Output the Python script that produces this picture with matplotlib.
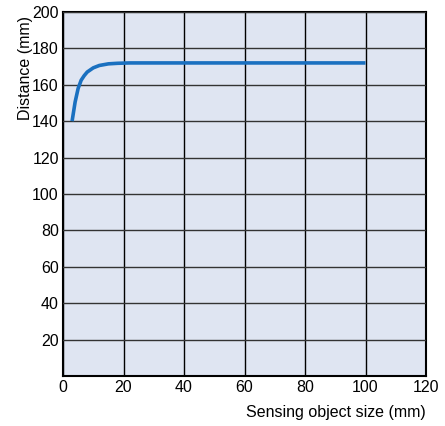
import matplotlib
matplotlib.use("Agg")
import matplotlib.pyplot as plt

# sensing object size (mm) vs distance (mm)
size_mm = [3, 4, 5, 6, 7, 8, 10, 12, 15, 18, 22, 100]
distance_mm = [140, 150.5, 158, 162.5, 165, 167, 169.3, 170.6, 171.5, 171.8, 172, 172]

x_ticks = [0, 20, 40, 60, 80, 100, 120]
y_ticks = [20, 40, 60, 80, 100, 120, 140, 160, 180, 200]

plt.rcParams['font.family'] = ['Liberation Sans', 'DejaVu Sans']

fig = plt.figure(figsize=(4.45, 4.26), dpi=100)
ax = fig.add_axes([0.1416, 0.1174, 0.8157, 0.8545])
ax.set_facecolor('#dfe5f2')

ax.plot(size_mm, distance_mm, color='#1a70c0', linewidth=2.6, solid_capstyle='butt', zorder=3)

ax.set_xlim(0, 120)
ax.set_ylim(0, 200)
ax.set_xticks(x_ticks)
ax.set_yticks(y_ticks)
ax.tick_params(axis='both', length=0, labelsize=11.5)
ax.tick_params(axis='y', pad=3)
ax.tick_params(axis='x', pad=3)
ax.grid(axis='x', color='black', linewidth=1.0)
ax.grid(axis='y', color='#333333', linewidth=1.0)
ax.set_axisbelow(False)
for s in ax.spines.values():
    s.set_color('black')
    s.set_linewidth(1.5)

ax.set_ylabel('Distance (mm)', fontsize=11.5)
ax.yaxis.set_label_coords(-0.083, 0.846)
fig.text(0.957, 0.021, 'Sensing object size (mm)', ha='right', va='baseline', fontsize=11.5)

fig.savefig('out.png', dpi=100)
